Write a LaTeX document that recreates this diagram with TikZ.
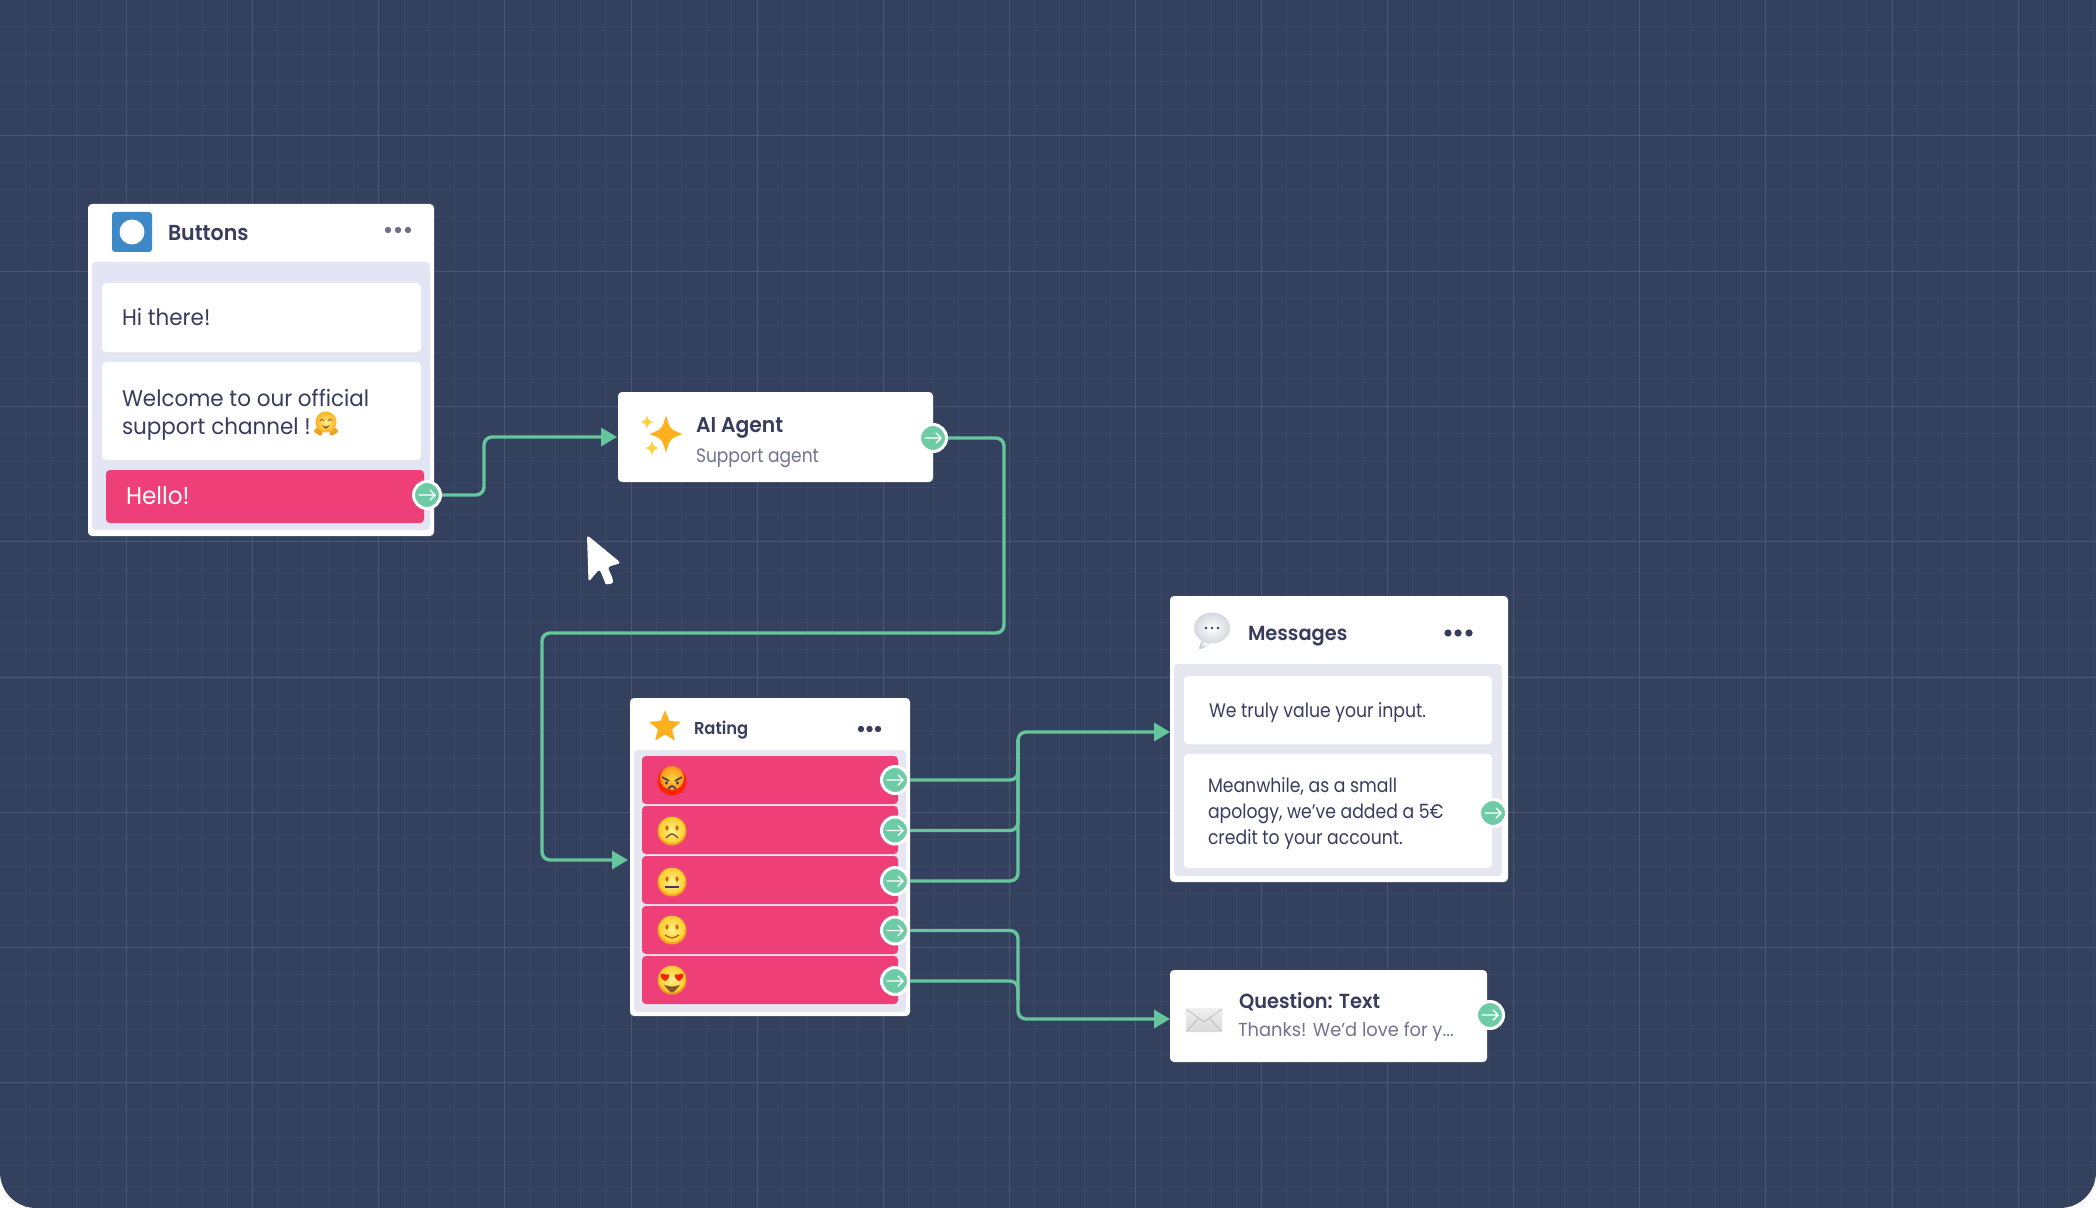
\documentclass[tikz,border=0pt]{standalone}
\usepackage{fontspec}
\usetikzlibrary{arrows.meta,shapes.geometric,calc}
\setmainfont[FakeStretch=0.95]{Poppins}
\newfontfamily\narrowfont[FakeStretch=0.88]{Poppins}
\newfontfamily\hdfont[FakeStretch=0.95]{Poppins SemiBold}
\definecolor{bgnavy}{HTML}{34415E}
\definecolor{gridmajor}{HTML}{4B5675}
\definecolor{gridminor}{HTML}{3B4865}
\definecolor{lav}{HTML}{E3E5F4}
\definecolor{lavb}{HTML}{E5E6EF}
\definecolor{pinkrow}{HTML}{EE3F79}
\definecolor{greenc}{HTML}{65C69E}
\definecolor{greenp}{HTML}{6DCCA5}
\definecolor{inkdark}{HTML}{383C5E}
\definecolor{inkgray}{HTML}{6F7390}
\definecolor{dotgray}{HTML}{6C6F8C}
\definecolor{bluei}{HTML}{3D88C6}
\definecolor{amber}{HTML}{FFB01F}
\definecolor{amberl}{HTML}{FFD23F}
\definecolor{faceinner}{HTML}{FFF08A}
\definecolor{facemid}{HTML}{FFCC2E}
\definecolor{faceouter}{HTML}{EFA21A}
\newcommand{\facebase}{\fill[faceouter] (0,0) circle (14.5);\shade[inner color=faceinner,outer color=facemid] (0,-0.8) circle (13.2);}
\newcommand{\sparklepath}{(0,-1) .. controls (.24,-.26) .. (1,0) .. controls (.24,.26) .. (0,1) .. controls (-.24,.26) .. (-1,0) .. controls (-.24,-.26) .. cycle}
\tikzset{
  x=0.5pt,y=-0.5pt,
  box/.style 2 args={rectangle,anchor=north west,inner sep=0pt,outer sep=0pt,minimum width=#1*0.5pt,minimum height=#2*0.5pt,rounded corners=2pt},
  card/.style={fill=white},
  panel/.style={fill=lav},
  panelb/.style={fill=lavb},
  rowbtn/.style={fill=pinkrow},
  txt/.style={anchor=base west,inner sep=0pt,outer sep=0pt,text=inkdark,font=\fontsize{11.3}{14}\selectfont},
  small/.style={txt,font=\narrowfont\fontsize{9.8}{13}\selectfont},
  title/.style={txt,font=\hdfont\fontsize{10.2}{13}\selectfont},
  sub/.style={txt,text=inkgray,font=\fontsize{9.4}{13}\selectfont},
  dot/.style={circle,inner sep=0pt,outer sep=0pt,minimum size=3.2pt},
  port/.style={circle,fill=greenp,draw=white,line width=1.5pt,minimum size=13.5pt,inner sep=0pt,
    path picture={
      \draw[white,line width=0.7pt,line cap=round,line join=round]
        ($(path picture bounding box.center)+(-8,0)$) -- ($(path picture bounding box.center)+(8,0)$)
        ($(path picture bounding box.center)+(3,-5)$) -- ($(path picture bounding box.center)+(8,0)$) -- ($(path picture bounding box.center)+(3,5)$);
    }},
  conn/.style={draw=greenc,line width=1.7pt,rounded corners=4pt},
  arr/.style={conn,-{Triangle[length=8pt,width=9pt]}},
}
\begin{document}
\begin{tikzpicture}
\useasboundingbox (0,0) rectangle (2096,1208);
% canvas
\fill[white] (0,0) rectangle (2096,1208);
\begin{scope}
\clip (0,0) -- (2096,0) [rounded corners=18pt] -- (2096,1208) -- (0,1208) [sharp corners] -- cycle;
\fill[bgnavy] (0,0) rectangle (2096,1208);
\foreach \k in {1,...,84} \draw[gridminor,line width=0.5pt] ({round(\k*25.22)+0.5},0) -- ({round(\k*25.22)+0.5},1208);
\foreach \k in {1,...,45} \draw[gridminor,line width=0.5pt] (0,{round(\k*27.06)+0.5}) -- (2096,{round(\k*27.06)+0.5});
\foreach \k in {1,...,16} \draw[gridmajor,line width=0.5pt] ({round(\k*126.1)+0.5},0) -- ({round(\k*126.1)+0.5},1208);
\foreach \k in {1,...,8} \draw[gridmajor,line width=0.5pt] (0,{round(\k*135.3)+0.5}) -- (2096,{round(\k*135.3)+0.5});
\end{scope}

% ---------- Buttons
\node[box={346}{332},card] (buttons) at (88,204) {};
\node[box={40}{40},fill=bluei,rounded corners=1.5pt] (buttonsicon) at (112,212) {};
\node[circle,fill=white,inner sep=0pt,minimum size=12.5pt] (buttonsdisc) at (132,232) {};
\node[title,font=\hdfont\fontsize{10.8}{13}\selectfont] (buttonstitle) at (168,241) {Buttons};
\node[dot,fill=dotgray] (bd1) at (388,230) {};
\node[dot,fill=dotgray] (bd2) at (398,230) {};
\node[dot,fill=dotgray] (bd3) at (408,230) {};
\node[box={338}{268},panel] (buttonspanel) at (92,262) {};
\fill[rounded corners=2pt,fill=inkgray!18] (102,285) rectangle (421,354);
\fill[rounded corners=2pt,fill=inkgray!18] (102,364) rectangle (421,462);
\node[box={319}{69},card] (hithere) at (102,283) {};
\node[box={319}{98},card] (welcome) at (102,362) {};
\node[txt] (hitxt) at (122,326) {Hi there!};
\node[txt] (welcome1) at (122,406) {Welcome to our official};
\node[txt] (welcome2) at (122,434) {support channel !};
\begin{scope}[shift={(326,422)}]
  \fill[faceouter] (-9,9) circle (2.8) (-6,11) circle (2.6) (9,9) circle (2.8) (6,11) circle (2.6);
  \shade[inner color=faceinner,outer color=amber] (0,0) circle (10.5);
  \fill[faceouter] (-9,9) circle (2.6) (9,9) circle (2.6);
  \draw[inkdark!60!orange,line width=0.4pt] (-6,-1) .. controls (-4,-3.5) .. (-2,-1) (2,-1) .. controls (4,-3.5) .. (6,-1);
  \fill[inkdark!50!orange] (-4,3) .. controls (0,5) .. (4,3) .. controls (0,8) .. cycle;
\end{scope}
\node[box={318}{53},rowbtn] (hello) at (106,470) {};
\node[txt,text=white,font=\fontsize{12.2}{15}\selectfont] (hellotxt) at (126,504) {Hello!};
\node[port] (porthello) at (427,495) {};

% ---------- AI Agent
\node[box={315}{90},card] (agent) at (618,392) {};
\begin{scope}[shift={(666,434)},xscale=16.5,yscale=18.7] \fill[amber] \sparklepath; \end{scope}
\begin{scope}[shift={(647,422)},xscale=6.5,yscale=6.5] \fill[amberl] \sparklepath; \end{scope}
\begin{scope}[shift={(652,448)},xscale=6.5,yscale=7.5] \fill[amberl] \sparklepath; \end{scope}
\node[title,font=\hdfont\fontsize{10.7}{13}\selectfont] (agenttitle) at (696,432) {AI Agent};
\node[sub,font=\narrowfont\fontsize{9.7}{13}\selectfont] (agentsub) at (696,462) {Support agent};
\node[port] (portagent) at (933,438) {};

% ---------- Rating
\node[box={280}{318},card] (rating) at (630,698) {};
\node[star,star points=5,star point ratio=2.3,fill=amber,inner sep=0pt,minimum size=17pt,rounded corners=0.5pt] (ratingstar) at (665,727) {};
\node[title,font=\hdfont\fontsize{8.6}{11}\selectfont] (ratingtitle) at (694,734) {Rating};
\node[dot,fill=inkdark] (rd1) at (861,729) {};
\node[dot,fill=inkdark] (rd2) at (869.5,729) {};
\node[dot,fill=inkdark] (rd3) at (878,729) {};
\node[box={272}{262},panelb] (ratingpanel) at (634,750) {};
\node[box={256}{48},rowbtn] (row1) at (642,756) {};
\node[box={256}{48},rowbtn] (row2) at (642,806) {};
\node[box={256}{48},rowbtn] (row3) at (642,856) {};
\node[box={256}{48},rowbtn] (row4) at (642,906) {};
\node[box={256}{48},rowbtn] (row5) at (642,956) {};
% angry
\begin{scope}[shift={(672,780)}]
  \fill[red!70!orange] (0,1) circle (14.5);
  \shade[inner color=amberl,outer color=amber!85!red] (0,-2) circle (12);
  \draw[inkdark,line width=0.8pt] (-10,-3) -- (-3,1) (10,-3) -- (3,1);
  \fill[inkdark] (-5.5,3) circle (1.6) (5.5,3) circle (1.6);
  \draw[inkdark,line width=0.8pt] (-4,9) .. controls (0,5) .. (4,9);
\end{scope}
% sad
\begin{scope}[shift={(672,831)}]
  \facebase
  \fill[orange!80!black] (-5,-3) ellipse (1.6 and 2.6) (5,-3) ellipse (1.6 and 2.6);
  \draw[inkdark!80!orange,line width=0.6pt] (-6,7) .. controls (0,1.5) .. (6,7);
\end{scope}
% neutral
\begin{scope}[shift={(672,882)}]
  \facebase
  \fill[orange!80!black] (-5,-3) ellipse (1.6 and 2.6) (5,-3) ellipse (1.6 and 2.6);
  \draw[inkdark,line width=0.7pt] (-7,5) -- (7,5);
\end{scope}
% smile
\begin{scope}[shift={(672,930)}]
  \facebase
  \fill[orange!80!black] (-5,-3) ellipse (1.6 and 2.6) (5,-3) ellipse (1.6 and 2.6);
  \draw[orange!70!black,line width=0.6pt] (-7,5) .. controls (0,9) .. (7,5);
\end{scope}
% heart eyes
\begin{scope}[shift={(672,980)}]
  \facebase
  \fill[red!75!orange] (-7,1) .. controls (-15,-4) and (-11,-9) .. (-6,-5) .. controls (-3,-8) and (0,-3) .. (-7,1);
  \fill[red!75!orange] (7,1) .. controls (15,-4) and (11,-9) .. (6,-5) .. controls (3,-8) and (0,-3) .. (7,1);
  \fill[brown!70!black] (-8,5) .. controls (0,7) .. (8,5) .. controls (0,15) .. cycle;
\end{scope}
\node[port] (portr1) at (895,780) {};
\node[port] (portr2) at (895,830.5) {};
\node[port] (portr3) at (895,881) {};
\node[port] (portr4) at (895,930.5) {};
\node[port] (portr5) at (895,981) {};

% ---------- Messages
\node[box={338}{286},card] (messages) at (1170,596) {};
\begin{scope}[shift={(1212,628)}]
  \shade[inner color=white,outer color=inkgray!40] (-10,10) -- (-13,21) .. controls (-6,20) .. (0,13) -- cycle;
  \shade[inner color=white,outer color=inkgray!28] (0,0) ellipse (18 and 15.5);
  \fill[inkdark] (-6,0) circle (1.4) (0,0) circle (1.4) (6,0) circle (1.4);
\end{scope}
\node[title] (messagestitle) at (1248,640) {Messages};
\node[dot,fill=inkdark,minimum size=3.6pt] (md1) at (1448,633) {};
\node[dot,fill=inkdark,minimum size=3.6pt] (md2) at (1458,633) {};
\node[dot,fill=inkdark,minimum size=3.6pt] (md3) at (1469,633) {};
\node[box={328}{212},panelb] (messagespanel) at (1174,664) {};
\node[box={308}{68},card] (value) at (1184,676) {};
\node[box={308}{114},card] (apology) at (1184,754) {};
\node[small] (valuetxt) at (1209,717) {We truly value your input.};
\node[small] (apo1) at (1208,792) {Meanwhile, as a small};
\node[small] (apo2) at (1208,818) {apology, we’ve added a 5€};
\node[small] (apo3) at (1208,844) {credit to your account.};
\node[port] (portmsg) at (1493,813) {};

% ---------- Question
\node[box={317}{92},card] (question) at (1170,970) {};
\shade[top color=gray!12,bottom color=gray!30,rounded corners=0.5pt] (1186,1008) rectangle (1222,1032);
\draw[gray!60,line width=0.3pt] (1186,1009) -- (1204,1022) -- (1222,1009) (1187,1031) -- (1199,1018) (1221,1031) -- (1209,1018);
\node[title] (questiontitle) at (1239,1008) {Question: Text};
\node[sub] (questionsub) at (1238,1036) {Thanks! We’d love for y...};
\node[port] (portq) at (1490,1015) {};

% ---------- cursor
\fill[white,rounded corners=1.5pt] (587,535) -- (621,563) -- (607.5,567) -- (613,579) .. controls (613,584) and (606,585) .. (604.5,581) -- (599.5,569) -- (588.5,582) -- cycle;

% ---------- connectors
\coordinate (agentin) at (617,437);
\coordinate (ratingin) at (628,860);
\coordinate (messagesin) at (messages.west |- 0,732);
\coordinate (questionin) at (question.west |- 0,1019);
\draw[arr] (porthello.east) -- (484,495) -- (484,437) -- (agentin);
\draw[arr] (portagent.east) -- (1004,438) -- (1004,633) -- (542,633) -- (542,860) -- (ratingin);
\draw[conn] (portr1.east) -- (1018,780) -- (1018,740);
\draw[conn] (portr2.east) -- (1018,830.5) -- (1018,740);
\draw[arr] (portr3.east) -- (1018,881) -- (1018,732) -- (messagesin);
\draw[conn] (portr4.east) -- (1018,930.5) -- (1018,1000);
\draw[arr] (portr5.east) -- (1018,981) -- (1018,1000) -- (1018,1019) -- (questionin);
\end{tikzpicture}
\end{document}
